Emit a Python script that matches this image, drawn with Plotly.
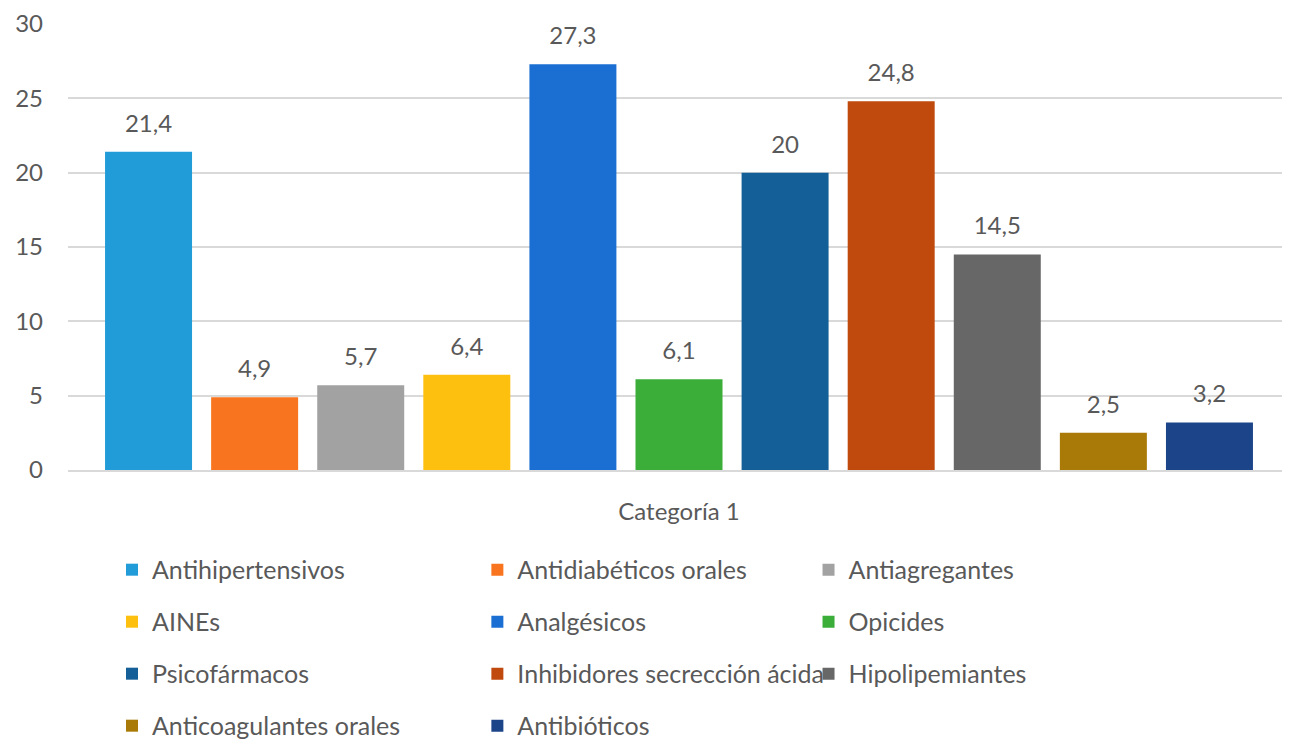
import plotly.graph_objects as go

category = ["Categoría 1"]
series_names = [
    "Antihipertensivos", "Antidiabéticos orales", "Antiagregantes",
    "AINEs", "Analgésicos", "Opicides",
    "Psicofármacos", "Inhibidores secrección ácida", "Hipolipemiantes",
    "Anticoagulantes orales", "Antibióticos",
]
values = [21.4, 4.9, 5.7, 6.4, 27.3, 6.1, 20, 24.8, 14.5, 2.5, 3.2]
colors = [
    "#229CD9", "#F8741E", "#A2A2A2",
    "#FDC00E", "#1B6FD2", "#3BAE3A",
    "#155F98", "#C04A0E", "#676767",
    "#A97A08", "#1C4489",
]
y_ticks = [0, 5, 10, 15, 20, 25, 30]

FONT = "Lato, 'Open Sans', sans-serif"
TXT = "#595959"
GAP = 0.045

fig = go.Figure()
legends = ["legend", "legend2", "legend3"]
for i, (name, v, c) in enumerate(zip(series_names, values, colors)):
    fig.add_trace(go.Bar(
        x=category, y=[v], name=name,
        marker=dict(color=c, line=dict(width=0)),
        legend=legends[i % 3], legendgroup=name,
        offsetgroup=str(i),
    ))
for i, (name, v) in enumerate(zip(series_names, values)):
    fig.add_trace(go.Scatter(
        x=category, y=[v], mode="markers+text",
        marker=dict(size=21, opacity=0),
        text=[v], texttemplate="%{y}", textposition="top center",
        textfont=dict(size=24, color=TXT, family=FONT),
        cliponaxis=False, showlegend=False, hoverinfo="skip",
        offsetgroup=str(i),
    ))

leg_common = dict(
    orientation="v", yanchor="top", xanchor="left",
    font=dict(size=25, color=TXT, family=FONT),
    traceorder="grouped", tracegroupgap=16.5,
    bgcolor="rgba(0,0,0,0)", itemclick=False,
)
# page body has an 8px margin; the figure is sized so the plot sits where the
# reference has it (the part below the window is simply not shown)
fig.update_layout(
    width=1282, height=770,
    margin=dict(l=60, r=0, t=16, b=308),
    paper_bgcolor="white", plot_bgcolor="white",
    barmode="group", bargap=GAP, bargroupgap=0.18,
    scattermode="group", scattergap=GAP,
    separators=",.",
    showlegend=True,
    legend=dict(x=0.036, y=-0.1725, **leg_common),
    legend2=dict(x=0.335, y=-0.1725, **leg_common),
    legend3=dict(x=0.606, y=-0.1725, **leg_common),
    font=dict(family=FONT, color=TXT, size=24),
    xaxis=dict(showline=True, linecolor="#d9d9d9", linewidth=1.5,
               tickfont=dict(size=24, color=TXT, family=FONT), ticks="",
               ticklabelstandoff=19),
    yaxis=dict(range=[0, 30], tickvals=y_ticks, showgrid=True,
               gridcolor="#d9d9d9", gridwidth=1.5, zeroline=False,
               tickfont=dict(size=24, color=TXT, family=FONT), ticks="",
               ticklabelstandoff=24),
)
fig.write_html("out.html")
